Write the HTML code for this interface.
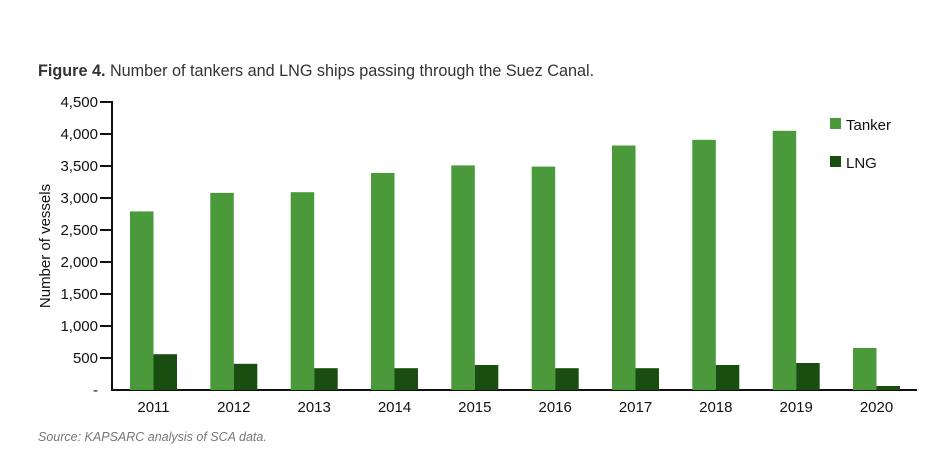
<!DOCTYPE html>
<html><head><meta charset="utf-8"><style>
body{margin:0;background:#fff;}
svg{display:block;font-family:"Liberation Sans",sans-serif;}
</style></head><body>
<svg width="935" height="461" viewBox="0 0 935 461">
<text x="38" y="76" font-size="16.2" fill="#333"><tspan font-weight="bold">Figure 4.</tspan> Number of tankers and LNG ships passing through the Suez Canal.</text>
<g font-size="15" fill="#111" text-anchor="end">
<text x="98" y="107">4,500</text>
<text x="98" y="139">4,000</text>
<text x="98" y="171">3,500</text>
<text x="98" y="203">3,000</text>
<text x="98" y="235">2,500</text>
<text x="98" y="267">2,000</text>
<text x="98" y="299">1,500</text>
<text x="98" y="331">1,000</text>
<text x="98" y="363">500</text>
<text x="98" y="395">-</text>
</g>
<g stroke="#111" stroke-width="2">
<line x1="112" y1="101" x2="112" y2="391"/>
<line x1="111" y1="390" x2="917" y2="390"/>
<line x1="100" y1="102" x2="112" y2="102"/>
<line x1="100" y1="134" x2="112" y2="134"/>
<line x1="100" y1="166" x2="112" y2="166"/>
<line x1="100" y1="198" x2="112" y2="198"/>
<line x1="100" y1="230" x2="112" y2="230"/>
<line x1="100" y1="262" x2="112" y2="262"/>
<line x1="100" y1="294" x2="112" y2="294"/>
<line x1="100" y1="326" x2="112" y2="326"/>
<line x1="100" y1="358" x2="112" y2="358"/>
</g>
<text transform="translate(50,246) rotate(-90)" font-size="15" text-anchor="middle" fill="#111">Number of vessels</text>
<g fill="#4a9a3c">
<rect x="130" y="211.4" width="23.5" height="178.6"/>
<rect x="210.3" y="192.9" width="23.5" height="197.1"/>
<rect x="290.7" y="192.2" width="23.5" height="197.8"/>
<rect x="371" y="173" width="23.5" height="217"/>
<rect x="451.3" y="165.4" width="23.5" height="224.6"/>
<rect x="531.7" y="166.6" width="23.5" height="223.4"/>
<rect x="612" y="145.5" width="23.5" height="244.5"/>
<rect x="692.3" y="139.8" width="23.5" height="250.2"/>
<rect x="772.7" y="130.8" width="23.5" height="259.2"/>
<rect x="853" y="348" width="23.5" height="42"/>
</g>
<g fill="#1a4d10">
<rect x="153.5" y="354.2" width="23.5" height="35.8"/>
<rect x="233.8" y="363.8" width="23.5" height="26.2"/>
<rect x="314.2" y="368.2" width="23.5" height="21.8"/>
<rect x="394.5" y="368.2" width="23.5" height="21.8"/>
<rect x="474.8" y="365" width="23.5" height="25"/>
<rect x="555.2" y="368.2" width="23.5" height="21.8"/>
<rect x="635.5" y="368.2" width="23.5" height="21.8"/>
<rect x="715.8" y="365" width="23.5" height="25"/>
<rect x="796.2" y="363" width="23.5" height="27"/>
<rect x="876.5" y="386" width="23.5" height="4"/>
</g>
<g font-size="15" fill="#111" text-anchor="middle">
<text x="153.5" y="412">2011</text>
<text x="233.8" y="412">2012</text>
<text x="314.2" y="412">2013</text>
<text x="394.5" y="412">2014</text>
<text x="474.8" y="412">2015</text>
<text x="555.2" y="412">2016</text>
<text x="635.5" y="412">2017</text>
<text x="715.8" y="412">2018</text>
<text x="796.2" y="412">2019</text>
<text x="876.5" y="412">2020</text>
</g>
<rect x="830" y="118" width="11" height="11" fill="#4a9a3c"/>
<text x="846" y="130" font-size="15" fill="#111">Tanker</text>
<rect x="830" y="156" width="11" height="11" fill="#1a4d10"/>
<text x="846" y="168" font-size="15" fill="#111">LNG</text>
<text x="38" y="441" font-size="12.5" font-style="italic" fill="#777">Source: KAPSARC analysis of SCA data.</text>
</svg>
</body></html>
